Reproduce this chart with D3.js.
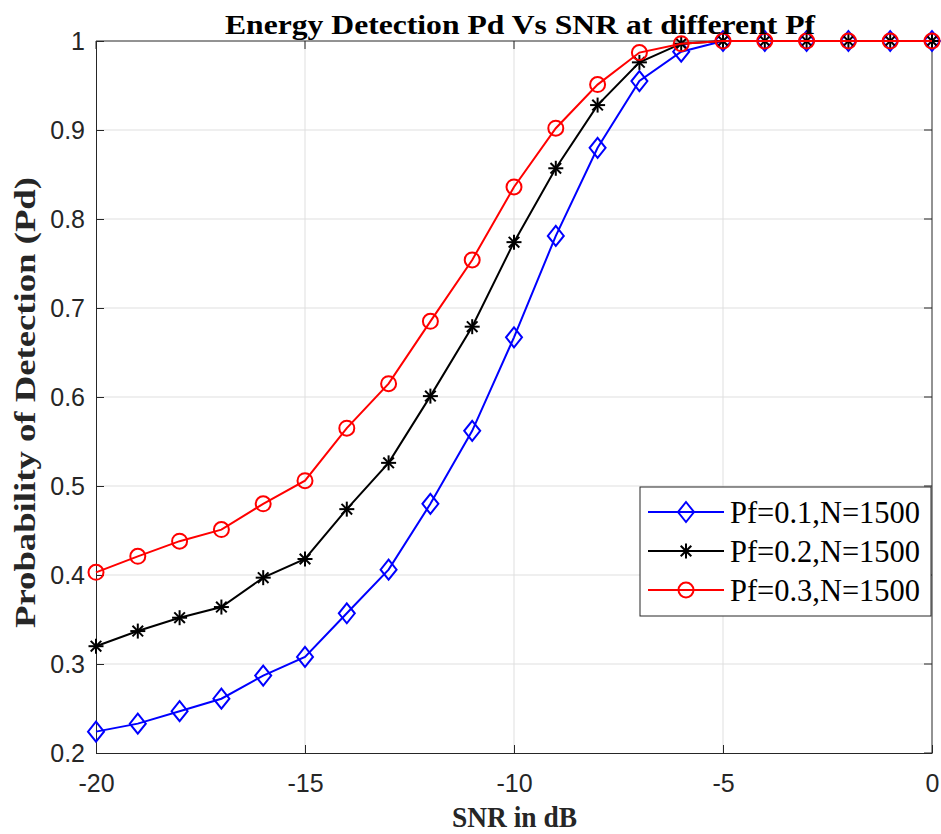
<!DOCTYPE html>
<html>
<head>
<meta charset="utf-8">
<script src="https://cdn.jsdelivr.net/npm/d3@7"></script>
<style>
  body { margin: 0; background: #fff; }
  svg { display: block; }
</style>
</head>
<body>
<svg id="chart" width="941" height="834"></svg>
<script>
// data
const snr = [-20, -19, -18, -17, -16, -15, -14, -13, -12, -11, -10, -9, -8, -7, -6, -5, -4, -3, -2, -1, 0];
const pd01 = [0.224, 0.233, 0.247, 0.261, 0.287, 0.308, 0.357, 0.406, 0.480, 0.562, 0.667, 0.781, 0.880, 0.955, 0.988, 1, 1, 1, 1, 1, 1];
const pd02 = [0.320, 0.337, 0.352, 0.364, 0.397, 0.418, 0.474, 0.526, 0.601, 0.679, 0.774, 0.857, 0.928, 0.976, 0.997, 1, 1, 1, 1, 1, 1];
const pd03 = [0.403, 0.421, 0.438, 0.451, 0.480, 0.506, 0.565, 0.615, 0.685, 0.754, 0.836, 0.902, 0.951, 0.987, 0.997, 1, 1, 1, 1, 1, 1];
const xTicks = [-20, -15, -10, -5, 0];
const yTicks = [0.2, 0.3, 0.4, 0.5, 0.6, 0.7, 0.8, 0.9, 1];
const seriesNames = ["Pf=0.1,N=1500", "Pf=0.2,N=1500", "Pf=0.3,N=1500"];

const series = [
  { name: seriesNames[0], values: pd01, color: "#0000ff", marker: "diamond" },
  { name: seriesNames[1], values: pd02, color: "#000000", marker: "star" },
  { name: seriesNames[2], values: pd03, color: "#ff0000", marker: "circle" }
];

const svg = d3.select("#chart");
const L = 96, R = 932, T = 41, B = 753;

const x = d3.scaleLinear().domain([-20, 0]).range([L, R]);
const y = d3.scaleLinear().domain([0.2, 1]).range([B, T]);

// grid
svg.append("g").selectAll("line").data(xTicks.slice(1, -1)).enter().append("line")
  .attr("x1", d => x(d)).attr("x2", d => x(d)).attr("y1", T).attr("y2", B)
  .attr("stroke", "#dfdfdf").attr("stroke-width", 1);
svg.append("g").selectAll("line").data(yTicks.slice(1, -1)).enter().append("line")
  .attr("x1", L).attr("x2", R).attr("y1", d => y(d)).attr("y2", d => y(d))
  .attr("stroke", "#dfdfdf").attr("stroke-width", 1);

// axes
const fontTick = "'Liberation Sans', Arial, sans-serif";
const xAxis = svg.append("g").attr("transform", `translate(0,${B})`)
  .call(d3.axisBottom(x).tickValues(xTicks).tickSizeInner(-8).tickSizeOuter(0).tickPadding(21)
    .tickFormat(d => String(d)));
const yAxis = svg.append("g").attr("transform", `translate(${L},0)`)
  .call(d3.axisLeft(y).tickValues(yTicks).tickSizeInner(-8).tickSizeOuter(0).tickPadding(11)
    .tickFormat(d => d === 1 ? "1" : d3.format(".1f")(d)));
[xAxis, yAxis].forEach(a => {
  a.selectAll("path, line").attr("stroke", "#262626").attr("stroke-width", 1);
  a.selectAll("text").attr("fill", "#262626").style("font-family", fontTick).style("font-size", "25px");
});
// box top/right
svg.append("line").attr("x1", L).attr("x2", R).attr("y1", T).attr("y2", T).attr("stroke", "#262626");
svg.append("line").attr("x1", R).attr("x2", R).attr("y1", T).attr("y2", B).attr("stroke", "#262626");
// top/right ticks
svg.append("g").selectAll("line").data(xTicks).enter().append("line")
  .attr("x1", d => x(d)).attr("x2", d => x(d)).attr("y1", T).attr("y2", T + 8).attr("stroke", "#262626");
svg.append("g").selectAll("line").data(yTicks).enter().append("line")
  .attr("x1", R).attr("x2", R - 8).attr("y1", d => y(d)).attr("y2", d => y(d)).attr("stroke", "#262626");

// markers
function drawMarker(g, type, color) {
  if (type === "diamond") {
    g.append("path").attr("d", "M0,-10L8,0L0,10L-8,0Z")
      .attr("fill", "none").attr("stroke", color).attr("stroke-width", 2);
  } else if (type === "circle") {
    g.append("circle").attr("r", 7.5)
      .attr("fill", "none").attr("stroke", color).attr("stroke-width", 2);
  } else {
    const r = 7.5;
    [0, 45, 90, 135].forEach(a => {
      const rad = a * Math.PI / 180;
      g.append("line")
        .attr("x1", -r * Math.cos(rad)).attr("y1", -r * Math.sin(rad))
        .attr("x2", r * Math.cos(rad)).attr("y2", r * Math.sin(rad))
        .attr("stroke", color).attr("stroke-width", 2);
    });
  }
}

const line = d3.line().x((d, i) => x(snr[i])).y(d => y(d));
series.forEach(s => {
  const g = svg.append("g");
  g.append("path").datum(s.values).attr("d", line)
    .attr("fill", "none").attr("stroke", s.color).attr("stroke-width", 2);
  s.values.forEach((v, i) => {
    const m = g.append("g").attr("transform", `translate(${x(snr[i])},${y(v)})`);
    drawMarker(m, s.marker, s.color);
  });
});

// title and labels
const serif = "'Liberation Serif', 'Times New Roman', serif";
svg.append("text").attr("x", 225).attr("y", 34)
  .attr("textLength", 590).attr("lengthAdjust", "spacingAndGlyphs")
  .style("font-family", serif).style("font-weight", "bold").style("font-size", "28px")
  .attr("fill", "#000").text("Energy Detection Pd Vs SNR at different Pf");
svg.append("text").attr("x", 452).attr("y", 827)
  .attr("textLength", 125).attr("lengthAdjust", "spacingAndGlyphs")
  .style("font-family", serif).style("font-weight", "bold").style("font-size", "30px")
  .attr("fill", "#262626").text("SNR in dB");
svg.append("text").attr("transform", `translate(35,628) rotate(-90)`)
  .attr("textLength", 451).attr("lengthAdjust", "spacingAndGlyphs")
  .style("font-family", serif).style("font-weight", "bold").style("font-size", "30px")
  .attr("fill", "#262626").text("Probability of Detection (Pd)");

// legend
const lg = svg.append("g");
lg.append("rect").attr("x", 640).attr("y", 487).attr("width", 291).attr("height", 129)
  .attr("fill", "#fff").attr("stroke", "#262626").attr("stroke-width", 1);
series.forEach((s, i) => {
  const yy = 512 + i * 39;
  lg.append("line").attr("x1", 648).attr("x2", 724).attr("y1", yy).attr("y2", yy)
    .attr("stroke", s.color).attr("stroke-width", 2);
  drawMarker(lg.append("g").attr("transform", `translate(686,${yy})`), s.marker, s.color);
  lg.append("text").attr("x", 730).attr("y", yy + 11)
    .attr("textLength", 190).attr("lengthAdjust", "spacingAndGlyphs")
    .style("font-family", serif).style("font-size", "31px").attr("fill", "#000").text(s.name);
});
</script>
</body>
</html>
